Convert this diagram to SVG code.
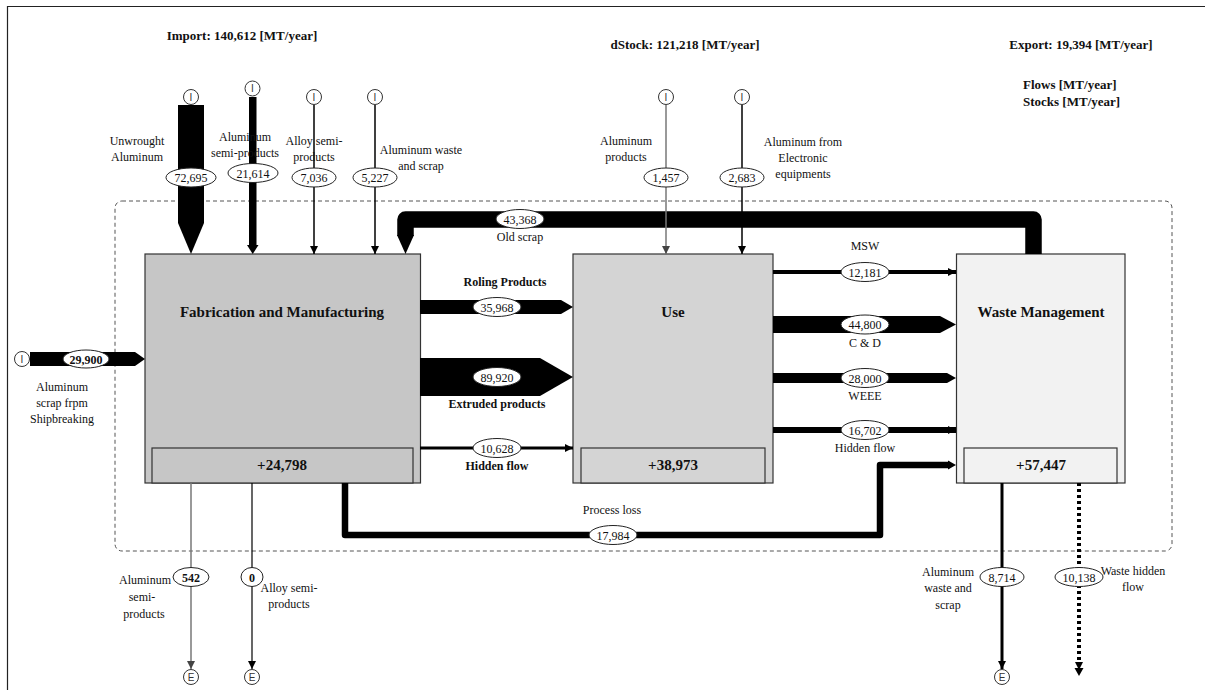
<svg xmlns="http://www.w3.org/2000/svg" width="1205" height="690" viewBox="0 0 1205 690">
<style>
text{font-family:"Liberation Serif","Times New Roman",serif;fill:#111}
.t{font-size:12px;text-anchor:middle}
.tl{font-size:12px}
.b{font-weight:bold}
.h{font-size:13px;font-weight:bold;text-anchor:middle}
.hl{font-size:13px;font-weight:bold}
.node{font-size:15px;font-weight:bold;text-anchor:middle}
.v{font-size:12px;text-anchor:middle}
.ell{fill:#fff;stroke:#222;stroke-width:1}
.io{fill:#fff;stroke:#333;stroke-width:1}
.iot{font-family:"Liberation Sans",Arial,sans-serif;font-size:10px;text-anchor:middle;fill:#333}
.blk{fill:#000}
.ln{stroke:#000;fill:none}
.gry{stroke:#777;fill:none}
.box{stroke:#333;stroke-width:1.2}
</style>
<defs>
<marker id="ah" viewBox="0 0 8 8" refX="8" refY="4" markerWidth="8" markerHeight="8" orient="auto" markerUnits="userSpaceOnUse"><path d="M0,0 L8,4 L0,8 z" fill="#000"/></marker>
<marker id="ahg" viewBox="0 0 8 8" refX="8" refY="4" markerWidth="8" markerHeight="8" orient="auto" markerUnits="userSpaceOnUse"><path d="M0,0 L8,4 L0,8 z" fill="#444"/></marker>
</defs>
<rect width="1205" height="690" fill="#fff"/>
<path d="M7.5,690 V6.5 H1205" fill="none" stroke="#222" stroke-width="1.2"/>
<rect x="115" y="201" width="1057" height="350" rx="7" fill="none" stroke="#555" stroke-width="1" stroke-dasharray="4,3"/>

<g id="titles">
<text class="h" x="242" y="40">Import: 140,612 [MT/year]</text>
<text class="h" x="685" y="49">dStock: 121,218 [MT/year]</text>
<text class="h" x="1081" y="49">Export: 19,394 [MT/year]</text>
<text class="hl" x="1023" y="89">Flows  [MT/year]</text>
<text class="hl" x="1023" y="106">Stocks [MT/year]</text>
</g>

<g id="fabrication">
<rect class="box" x="145" y="254" width="275.5" height="229" fill="#c6c6c6"/>
<rect class="box" x="152" y="448" width="261" height="35" fill="#c6c6c6"/>
<text class="node" x="282" y="317">Fabrication and Manufacturing</text>
<text class="node" x="282" y="470">+24,798</text>
</g>
<g id="use">
<rect class="box" x="573" y="254" width="200" height="229" fill="#d4d4d4"/>
<rect class="box" x="581" y="448" width="184" height="35" fill="#d4d4d4"/>
<text class="node" x="673" y="317">Use</text>
<text class="node" x="673" y="470">+38,973</text>
</g>
<g id="waste-management">
<rect class="box" x="956.5" y="254" width="168.5" height="229" fill="#f2f2f2"/>
<rect class="box" x="964" y="448" width="153" height="35" fill="#f2f2f2"/>
<text class="node" x="1041" y="317">Waste Management</text>
<text class="node" x="1041" y="470">+57,447</text>
</g>

<g id="connectors">
<!-- imports to fabrication -->
<polygon class="blk" points="178,105 204,105 204,223 191,254 178,223"/>
<rect class="blk" x="249" y="97" width="7.5" height="148"/>
<polygon class="blk" points="247,245 258.5,245 252.7,254"/>
<line class="ln" x1="314" y1="105" x2="314" y2="254" stroke-width="1.5" marker-end="url(#ah)"/>
<line class="ln" x1="375" y1="105" x2="375" y2="254" stroke-width="1.5" marker-end="url(#ah)"/>
<!-- old scrap -->
<path d="M1033.5,254 V219.5 H405.5 V236" fill="none" stroke="#000" stroke-width="16.5" stroke-linejoin="round"/>
<polygon class="blk" points="397,235 414,235 405.5,254"/>
<!-- shipbreaking -->
<polygon class="blk" points="30,352 135,352 145,359 135,366 30,366"/>
<!-- fabrication to use -->
<polygon class="blk" points="420,300 561,300 573,307 561,314 420,314"/>
<polygon class="blk" points="420,358 540,358 573,377 540,396 420,396"/>
<line class="ln" x1="420" y1="448" x2="573" y2="448" stroke-width="3" marker-end="url(#ah)"/>
<!-- imports to use -->
<line class="gry" x1="666" y1="105" x2="666" y2="254" stroke-width="1.5" marker-end="url(#ahg)"/>
<line class="ln" x1="742" y1="105" x2="742" y2="254" stroke-width="1.5" marker-end="url(#ah)"/>
<!-- use to waste management -->
<line class="ln" x1="773" y1="272" x2="956" y2="272" stroke-width="4" marker-end="url(#ah)"/>
<polygon class="blk" points="773,316 940,316 956,324.5 940,333 773,333"/>
<polygon class="blk" points="773,373 947,373 956,378 947,383 773,383"/>
<line class="ln" x1="773" y1="430" x2="956" y2="430" stroke-width="6" marker-end="url(#ah)"/>
<!-- process loss -->
<path d="M345,483 V535 H880 V465 H950" fill="none" stroke="#000" stroke-width="6.5" stroke-linejoin="round"/>
<polygon class="blk" points="948,460.5 956,465 948,469.5"/>
<!-- exports -->
<line class="gry" x1="191" y1="483" x2="191" y2="669" stroke-width="1.5" marker-end="url(#ahg)"/>
<line class="ln" x1="252" y1="483" x2="252" y2="669" stroke-width="1.2" marker-end="url(#ah)"/>
<line class="ln" x1="1002" y1="483" x2="1002" y2="669" stroke-width="3" marker-end="url(#ah)"/>
<line class="ln" x1="1079" y1="483" x2="1079" y2="670" stroke-width="4" stroke-dasharray="3,3" marker-end="url(#ah)"/>
<polygon class="blk" points="1074.5,668 1083.5,668 1079,676"/>
</g>

<g id="sources">
<circle class="io" cx="191" cy="97" r="7.5"/><text class="iot" x="191" y="100.5">I</text>
<circle class="io" cx="252.5" cy="88.5" r="7.5"/><text class="iot" x="252.5" y="92">I</text>
<circle class="io" cx="314" cy="97" r="7.5"/><text class="iot" x="314" y="100.5">I</text>
<circle class="io" cx="375" cy="97" r="7.5"/><text class="iot" x="375" y="100.5">I</text>
<circle class="io" cx="666" cy="97" r="7.5"/><text class="iot" x="666" y="100.5">I</text>
<circle class="io" cx="742" cy="97" r="7.5"/><text class="iot" x="742" y="100.5">I</text>
<circle class="io" cx="22" cy="359" r="7.5"/><text class="iot" x="22" y="362.5">I</text>
<circle class="io" cx="191" cy="677" r="7.5"/><text class="iot" x="191" y="680.5">E</text>
<circle class="io" cx="252" cy="677" r="7.5"/><text class="iot" x="252" y="680.5">E</text>
<circle class="io" cx="1002" cy="677" r="7.5"/><text class="iot" x="1002" y="680.5">E</text>
</g>

<g id="flow-labels">
<text class="t" x="137" y="145">Unwrought</text>
<text class="t" x="137" y="161">Aluminum</text>
<ellipse class="ell" cx="191" cy="177.5" rx="25" ry="9.5"/><text class="v" x="191" y="182">72,695</text>

<text class="t" x="245" y="141">Aluminum</text>
<text class="t" x="245" y="157">semi-products</text>
<ellipse class="ell" cx="253" cy="173" rx="25" ry="9.5"/><text class="v" x="253" y="177.5">21,614</text>

<text class="t" x="314" y="145">Alloy semi-</text>
<text class="t" x="314" y="161">products</text>
<ellipse class="ell" cx="314" cy="177.5" rx="22" ry="9.5"/><text class="v" x="314" y="182">7,036</text>

<text class="t" x="421" y="154">Aluminum waste</text>
<text class="t" x="421" y="170">and scrap</text>
<ellipse class="ell" cx="375" cy="177.5" rx="22" ry="9.5"/><text class="v" x="375" y="182">5,227</text>

<ellipse class="ell" cx="520" cy="219" rx="24" ry="9.5"/><text class="v" x="520" y="223.5">43,368</text>
<text class="t" x="520" y="241">Old scrap</text>

<ellipse class="ell" cx="86" cy="359" rx="23" ry="9"/><text class="v b" x="86" y="363.5">29,900</text>
<text class="t" x="62" y="391">Aluminum</text>
<text class="t" x="62" y="407">scrap frpm</text>
<text class="t" x="62" y="423">Shipbreaking</text>

<text class="t b" x="505" y="286">Roling Products</text>
<ellipse class="ell" cx="497" cy="307" rx="24" ry="9.5"/><text class="v" x="497" y="311.5">35,968</text>
<ellipse class="ell" cx="497" cy="377" rx="24" ry="9.5"/><text class="v" x="497" y="381.5">89,920</text>
<text class="t b" x="497" y="408">Extruded products</text>
<ellipse class="ell" cx="497" cy="448" rx="24" ry="9.5"/><text class="v" x="497" y="452.5">10,628</text>
<text class="t b" x="497" y="470">Hidden flow</text>

<text class="t" x="626" y="145">Aluminum</text>
<text class="t" x="626" y="161">products</text>
<ellipse class="ell" cx="666" cy="177.5" rx="22" ry="9.5"/><text class="v" x="666" y="182">1,457</text>
<ellipse class="ell" cx="742" cy="177.5" rx="22" ry="9.5"/><text class="v" x="742" y="182">2,683</text>
<text class="t" x="803" y="146">Aluminum from</text>
<text class="t" x="803" y="162">Electronic</text>
<text class="t" x="803" y="178">equipments</text>

<text class="t" x="865" y="250">MSW</text>
<ellipse class="ell" cx="865" cy="272" rx="24" ry="9.5"/><text class="v" x="865" y="276.5">12,181</text>
<ellipse class="ell" cx="865" cy="324.5" rx="24" ry="9.5"/><text class="v" x="865" y="329">44,800</text>
<text class="t" x="865" y="347">C &amp; D</text>
<ellipse class="ell" cx="865" cy="378" rx="24" ry="9.5"/><text class="v" x="865" y="382.5">28,000</text>
<text class="t" x="865" y="400">WEEE</text>
<ellipse class="ell" cx="865" cy="430" rx="24" ry="9.5"/><text class="v" x="865" y="434.5">16,702</text>
<text class="t" x="865" y="452">Hidden flow</text>

<text class="t" x="612" y="514">Process loss</text>
<ellipse class="ell" cx="613" cy="535" rx="24" ry="9.5"/><text class="v" x="613" y="539.5">17,984</text>

<ellipse class="ell" cx="191" cy="577" rx="18" ry="9.5"/><text class="v b" x="191" y="581.5">542</text>
<text class="t" x="145" y="584">Aluminum</text>
<text class="t" x="142" y="601">semi-</text>
<text class="t" x="144" y="618">products</text>
<ellipse class="ell" cx="252" cy="577" rx="11" ry="9.5"/><text class="v b" x="252" y="581.5">0</text>
<text class="t" x="289" y="592">Alloy semi-</text>
<text class="t" x="289" y="608">products</text>

<text class="t" x="948" y="576">Aluminum</text>
<text class="t" x="948" y="592">waste and</text>
<text class="t" x="948" y="609">scrap</text>
<ellipse class="ell" cx="1002" cy="577" rx="22" ry="9.5"/><text class="v" x="1002" y="581.5">8,714</text>
<ellipse class="ell" cx="1079" cy="577" rx="24" ry="9.5"/><text class="v" x="1079" y="581.5">10,138</text>
<text class="t" x="1133" y="575">Waste hidden</text>
<text class="t" x="1133" y="591">flow</text>
</g>
</svg>
